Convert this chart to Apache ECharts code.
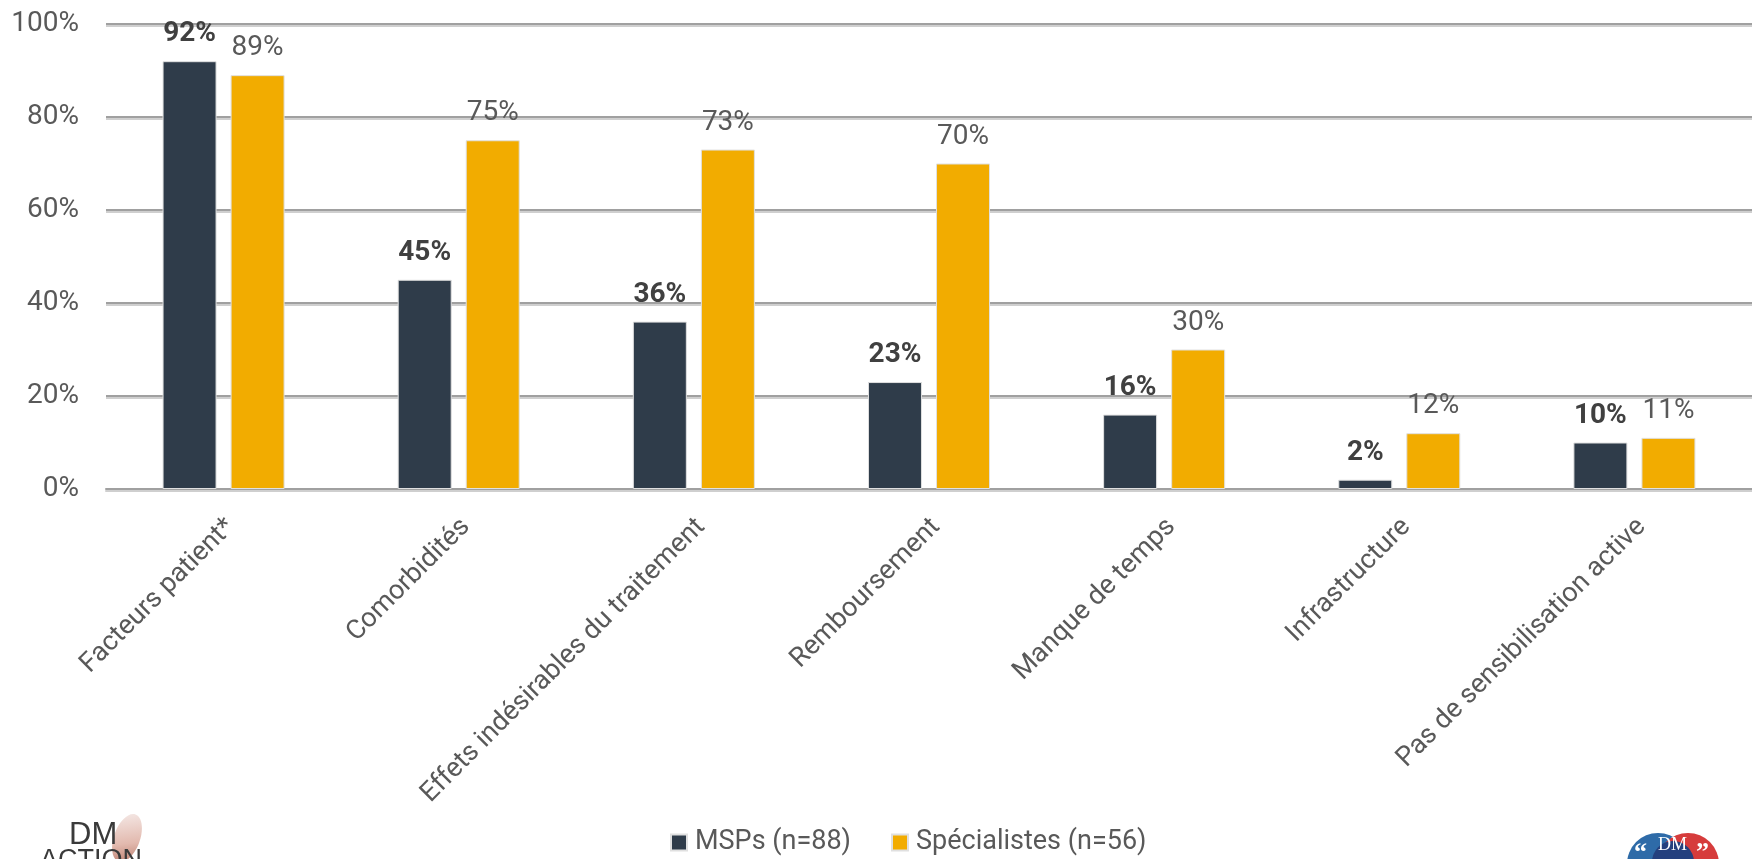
<!DOCTYPE html>
<html>
<head>
<meta charset="utf-8">
<script src="https://cdn.jsdelivr.net/npm/echarts@6/dist/echarts.min.js"></script>
<style>
  html, body { margin: 0; padding: 0; background: #ffffff; }
  #chart { width: 1752px; height: 859px; }
</style>
</head>
<body>
<div id="chart"></div>
<script>
// Obstacles cited by respondents, % of each group
const categories = [
  'Facteurs patient*',
  'Comorbidités',
  'Effets indésirables du traitement',
  'Remboursement',
  'Manque de temps',
  'Infrastructure',
  'Pas de sensibilisation active'
];
const seriesNames = ['MSPs (n=88)', 'Spécialistes (n=56)'];
const mspValues = [92, 45, 36, 23, 16, 2, 10];
const specialistValues = [89, 75, 73, 70, 30, 12, 11];
const yTicks = [0, 20, 40, 60, 80, 100];

const FONT = "Roboto, 'Liberation Sans', Arial, sans-serif";
const LOGO_FONT = "'Liberation Sans', Arial, sans-serif";
const DARK = '#2f3c4a';
const GOLD = '#f2ac00';

const chart = echarts.init(document.getElementById('chart'), null, { renderer: 'canvas' });

chart.setOption({
  backgroundColor: '#ffffff',
  animation: false,
  textStyle: { fontFamily: FONT },
  grid: { left: 106, top: 24, width: 1662, height: 465, containLabel: false },
  legend: {
    data: seriesNames,
    left: 665,
    top: 824,
    itemWidth: 16,
    itemHeight: 16,
    itemGap: 40,
    icon: 'rect',
    textStyle: { fontFamily: FONT, fontSize: 27, color: '#595959', padding: [0, 0, 0, 3] }
  },
  xAxis: {
    type: 'category',
    data: categories,
    axisTick: { show: false },
    axisLine: { show: true, lineStyle: { color: '#a0a0a0', width: 2,
      shadowColor: '#cfcfcf', shadowOffsetY: 2, shadowBlur: 0 } },
    axisLabel: {
      rotate: 45,
      margin: 41,
      interval: 0,
      fontFamily: FONT,
      fontSize: 27,
      color: '#595959',
      padding: [0, -10, 0, 0]
    }
  },
  yAxis: {
    type: 'value',
    min: yTicks[0],
    max: yTicks[yTicks.length - 1],
    interval: yTicks[1] - yTicks[0],
    axisLine: { show: false },
    axisTick: { show: false },
    axisLabel: {
      margin: 27,
      fontFamily: FONT,
      fontSize: 28,
      color: '#595959',
      formatter: '{value}%'
    },
    splitLine: {
      show: true,
      lineStyle: { color: '#a0a0a0', width: 2, shadowColor: '#cfcfcf', shadowOffsetY: 2, shadowBlur: 0 }
    }
  },
  series: [
    {
      name: seriesNames[0],
      type: 'bar',
      data: mspValues,
      barWidth: 54,
      barGap: '26%',
      itemStyle: { color: DARK, borderColor: '#e0e0e0', borderWidth: 1 },
      label: {
        show: true,
        position: 'top',
        distance: 13,
        formatter: '{c}%',
        fontFamily: FONT,
        fontSize: 28,
        fontWeight: 'bold',
        color: '#404040'
      }
    },
    {
      name: seriesNames[1],
      type: 'bar',
      data: specialistValues,
      barWidth: 54,
      itemStyle: { color: GOLD, borderColor: '#e0e0e0', borderWidth: 1 },
      label: {
        show: true,
        position: 'top',
        distance: 13,
        formatter: '{c}%',
        fontFamily: FONT,
        fontSize: 28,
        color: '#595959'
      }
    }
  ],
  graphic: [
    // Logo, bottom left
    {
      type: 'ellipse',
      shape: { cx: 0, cy: 0, rx: 13, ry: 25 },
      x: 127, y: 838, rotation: -0.35,
      style: {
        fill: new echarts.graphic.LinearGradient(0, 0, 1, 1, [
          { offset: 0, color: '#f6ecea' },
          { offset: 0.6, color: '#e2b9ae' },
          { offset: 1, color: '#b87868' }
        ])
      },
      z: 10
    },
    {
      type: 'text', x: 69, y: 820, z: 11,
      style: { text: 'DM', fontFamily: LOGO_FONT, fontSize: 31, fill: '#3a3a3a' }
    },
    {
      type: 'text', x: 40, y: 847, z: 11,
      style: { text: 'ACTION', fontFamily: LOGO_FONT, fontSize: 27, fill: '#3a3a3a' }
    },
    // Logo, bottom right
    {
      type: 'circle', shape: { cx: 1658, cy: 864, r: 31 }, z: 10,
      style: { fill: '#2e6ba8' }
    },
    {
      type: 'circle', shape: { cx: 1688, cy: 864, r: 31 }, z: 10,
      style: { fill: '#d63c3c' }
    },
    {
      type: 'circle', shape: { cx: 1673, cy: 862, r: 21 }, z: 11,
      style: { fill: '#24407e' }
    },
    {
      type: 'text', x: 1658, y: 836, z: 12,
      style: { text: 'DM', fontFamily: "'Liberation Serif', serif", fontSize: 18, fill: '#ffffff' }
    },
    {
      type: 'text', x: 1634, y: 840, z: 12,
      style: { text: '\u201C', fontFamily: "'Liberation Serif', serif", fontSize: 26, fontWeight: 'bold', fill: '#ffffff' }
    },
    {
      type: 'text', x: 1696, y: 840, z: 12,
      style: { text: '\u201D', fontFamily: "'Liberation Serif', serif", fontSize: 26, fontWeight: 'bold', fill: '#ffffff' }
    }
  ]
});
</script>
</body>
</html>
